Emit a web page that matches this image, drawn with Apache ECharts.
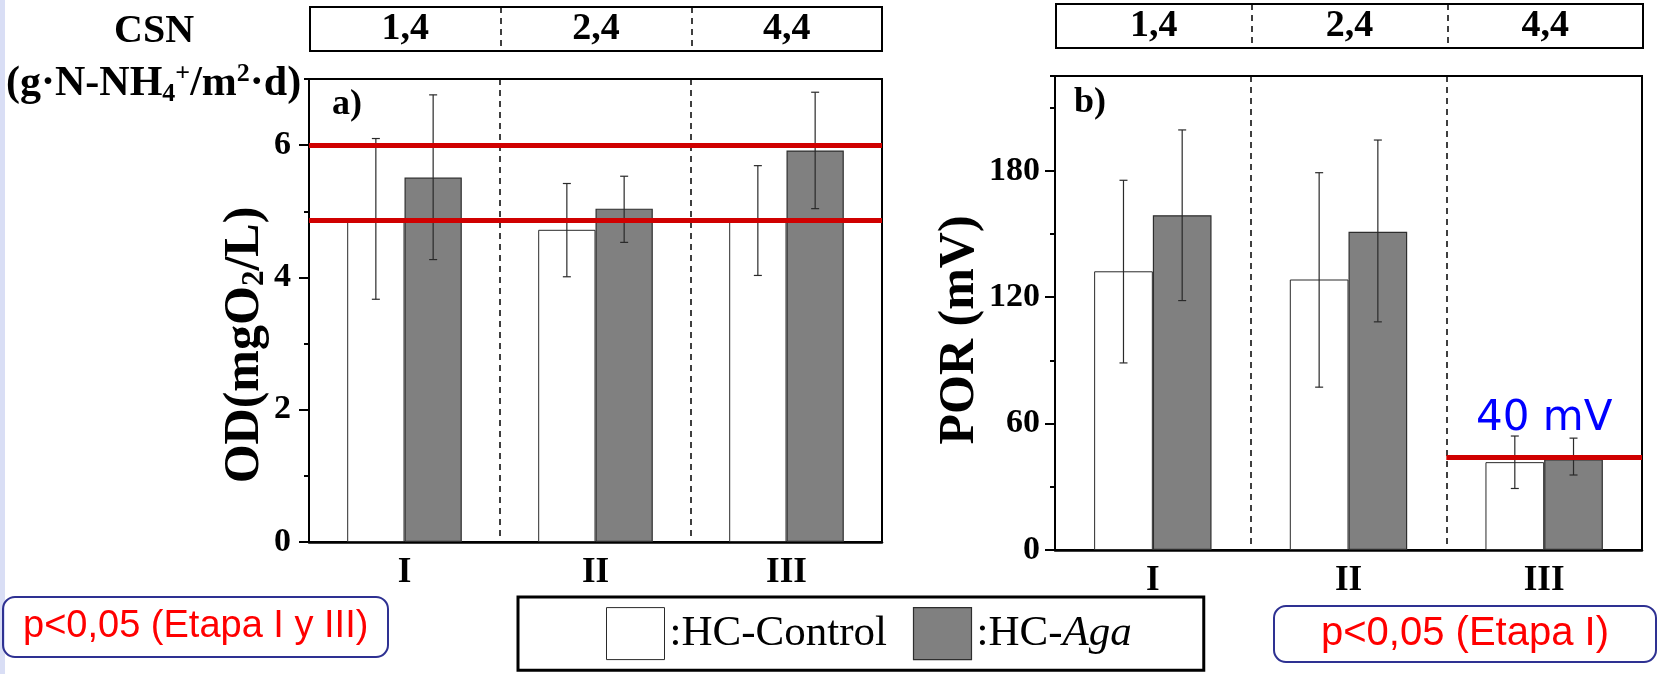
<!DOCTYPE html>
<html><head><meta charset="utf-8">
<script src="https://cdn.jsdelivr.net/npm/echarts@6/dist/echarts.min.js"></script>
<style>html,body{margin:0;padding:0;background:#fff}#c{width:1667px;height:674px}</style>
</head><body><div id="c"></div>
<script>
// ---- data ----
const stages = ['I', 'II', 'III'];
const csnLabels = ['1,4', '2,4', '4,4'];
const odControl = [4.85, 4.72, 4.85];
const odAga = [5.51, 5.04, 5.92];
const odControlErr = [[3.67, 6.10], [4.01, 5.42], [4.03, 5.69]];
const odAgaErr = [[4.27, 6.76], [4.53, 5.53], [5.04, 6.80]];
const odLimits = [6.0, 4.87];
const porControl = [132.3, 128.4, 41.7];
const porAga = [158.9, 151.1, 43.0];
const porControlErr = [[88.8, 175.5], [77.3, 179.1], [29.2, 54.1]];
const porAgaErr = [[118.4, 199.4], [108.3, 194.6], [35.6, 53.1]];
const porLimit = 43.8;
const porLimitStageSpan = [2, 3];
const porLimitLabel = '40 mV';

// ---- styles ----
const SERIF = "'Liberation Serif', 'Times New Roman', serif";
const SANS = "'Liberation Sans', Arial, sans-serif";
const RED = '#d00000';

function errItem(sign) {
  return function (params, api) {
    const x = api.value(0), lo = api.value(1), hi = api.value(2);
    const band = api.size([1, 0])[0];
    const pHi = api.coord([x, hi]);
    const pLo = api.coord([x, lo]);
    const cx = pHi[0] + sign * band * 0.15;
    const hw = 4;
    const st = { stroke: '#2a2a2a', lineWidth: 1.2 };
    return { type: 'group', children: [
      { type: 'line', shape: { x1: cx, y1: pHi[1], x2: cx, y2: pLo[1] }, style: st },
      { type: 'line', shape: { x1: cx - hw, y1: pHi[1], x2: cx + hw, y2: pHi[1] }, style: st },
      { type: 'line', shape: { x1: cx - hw, y1: pLo[1], x2: cx + hw, y2: pLo[1] }, style: st }
    ]};
  };
}
function errData(arr) { return arr.map((d, i) => [i, d[0], d[1]]); }

const catAxisCommon = {
  type: 'category', data: stages, boundaryGap: true, position: 'bottom',
  axisLine: { lineStyle: { color: '#000', width: 2.5 } },
  axisTick: { alignWithLabel: true, length: 10, lineStyle: { color: '#000', width: 2 } },
  axisLabel: { fontFamily: SERIF, fontWeight: 'bold', fontSize: 35, color: '#000', margin: 13 },
  splitLine: { show: true, lineStyle: { color: '#000', width: 1.5, type: [6, 5] } }
};
function majorY(grid, max, interval, margin, name, nameGap, shift) {
  return {
    type: 'value', gridIndex: grid, position: 'left', min: 0, max: max, interval: interval,
    axisLine: { show: true, lineStyle: { color: '#000', width: 2 } },
    axisTick: { show: true, length: 10, lineStyle: { color: '#000', width: 2 } },
    axisLabel: { fontFamily: SERIF, fontWeight: 'bold', fontSize: 34, color: '#000', margin: margin, showMaxLabel: false },
    splitLine: { show: false },
    name: name, nameLocation: 'middle', nameGap: nameGap, nameRotate: 90,
    nameTextStyle: { fontFamily: SERIF, fontWeight: 'bold', fontSize: 50, color: '#000', padding: [0, shift, 0, 0],
      rich: { s: { fontFamily: SERIF, fontWeight: 'bold', fontSize: 31, color: '#000', verticalAlign: 'bottom', lineHeight: 50 } } }
  };
}
function minorY(grid, max, interval) {
  return {
    type: 'value', gridIndex: grid, position: 'left', offset: 0, min: 0, max: max, interval: interval,
    axisLine: { show: false }, axisLabel: { show: false }, splitLine: { show: false },
    axisTick: { show: true, length: 5, lineStyle: { color: '#000', width: 2 } }
  };
}
function csnAxis(grid) {
  return {
    type: 'category', gridIndex: grid, data: csnLabels, boundaryGap: true, position: 'bottom',
    axisLine: { show: false }, axisTick: { show: false },
    axisLabel: { fontFamily: SERIF, fontWeight: 'bold', fontSize: 38, color: '#000', margin: -22, verticalAlign: 'middle' },
    splitLine: { show: true, lineStyle: { color: '#000', width: 1.5, type: [6, 5] } }
  };
}

const whiteStyle = { color: '#ffffff', borderColor: '#2a2a2a', borderWidth: 1 };
const grayStyle = { color: '#808080', borderColor: '#2e2e2e', borderWidth: 1.2 };

const option = {
  backgroundColor: '#fff',
  animation: false,
  graphic: [{ type: 'rect', left: 0, top: 0, shape: { width: 5, height: 674 }, style: { fill: '#d9def5' } }],
  grid: [
    { left: 309, top: 79, width: 573, height: 463, show: true, borderColor: '#000', borderWidth: 2 },
    { left: 1055, top: 76, width: 587, height: 474, show: true, borderColor: '#000', borderWidth: 2 },
    { left: 310, top: 7, width: 572, height: 44, show: true, borderColor: '#000', borderWidth: 2 },
    { left: 1056, top: 4, width: 587, height: 44, show: true, borderColor: '#000', borderWidth: 2 }
  ],
  xAxis: [
    Object.assign({ gridIndex: 0 }, catAxisCommon),
    Object.assign({ gridIndex: 1 }, catAxisCommon),
    csnAxis(2),
    csnAxis(3),
    { type: 'value', gridIndex: 1, min: 0, max: 3, show: false }
  ],
  yAxis: [
    majorY(0, 7, 2, 18, 'OD(mgO{s|2}/L)', 38, 69),
    minorY(0, 7, 1),
    majorY(1, 225, 60, 15, 'POR (mV)', 70, 34),
    minorY(1, 225, 30),
    { type: 'value', gridIndex: 2, show: false },
    { type: 'value', gridIndex: 3, show: false }
  ],
  legend: {
    left: 518, top: 597, orient: 'horizontal',
    itemWidth: 58, itemHeight: 52, itemGap: 26,
    padding: [10, 72, 10, 88],
    borderColor: '#000', borderWidth: 3,
    icon: 'rect',
    data: [
      { name: 'HC-Control', itemStyle: whiteStyle },
      { name: 'HC-Aga', itemStyle: grayStyle }
    ],
    formatter: function (n) { return n === 'HC-Aga' ? ':HC-{i|Aga}' : ':' + n; },
    textStyle: { fontFamily: SERIF, fontSize: 43, color: '#000',
      rich: { i: { fontFamily: SERIF, fontSize: 43, fontStyle: 'italic', color: '#000' } } }
  },
  title: [
    { text: 'CSN', left: 114, top: 12, padding: 0,
      textStyle: { fontFamily: SERIF, fontWeight: 'bold', fontSize: 40, color: '#000' } },
    { text: '(g·N-NH{sb|4}{sp|+}/m{sp|2}·d)', left: 6, top: 61, padding: 0,
      textStyle: { fontFamily: SERIF, fontWeight: 'bold', fontSize: 42, color: '#000',
        rich: {
          sb: { fontFamily: SERIF, fontWeight: 'bold', fontSize: 26, color: '#000', verticalAlign: 'bottom', lineHeight: 46 },
          sp: { fontFamily: SERIF, fontWeight: 'bold', fontSize: 26, color: '#000', verticalAlign: 'top', lineHeight: 46 }
        } } },
    { text: 'a)', left: 332, top: 87, padding: 0,
      textStyle: { fontFamily: SERIF, fontWeight: 'bold', fontSize: 36, color: '#000' } },
    { text: 'b)', left: 1074, top: 85, padding: 0,
      textStyle: { fontFamily: SERIF, fontWeight: 'bold', fontSize: 36, color: '#000' } },
    { text: 'p<0,05 (Etapa I y III)', left: 3, top: 597, padding: [11, 20, 11, 20],
      borderColor: '#2e3192', borderWidth: 2, borderRadius: 12,
      textStyle: { fontFamily: SANS, fontWeight: 'normal', fontSize: 38, color: '#ff0000' } },
    { text: 'p<0,05 (Etapa I)', left: 1274, top: 606, padding: [8, 47, 8, 47],
      borderColor: '#2e3192', borderWidth: 2, borderRadius: 12,
      textStyle: { fontFamily: SANS, fontWeight: 'normal', fontSize: 40, color: '#ff0000' } }
  ],
  series: [
    { name: 'HC-Control', type: 'bar', xAxisIndex: 0, yAxisIndex: 0, data: odControl,
      barGap: '0%', barCategoryGap: '40%', itemStyle: whiteStyle, z: 2 },
    { name: 'HC-Aga', type: 'bar', xAxisIndex: 0, yAxisIndex: 0, data: odAga,
      barGap: '0%', barCategoryGap: '40%', itemStyle: grayStyle, z: 2,
      markLine: { silent: true, symbol: ['none', 'none'], label: { show: false },
        lineStyle: { color: RED, width: 5, type: 'solid' },
        data: odLimits.map(v => ({ yAxis: v })) } },
    { name: 'HC-Control', type: 'bar', xAxisIndex: 1, yAxisIndex: 2, data: porControl,
      barGap: '0%', barCategoryGap: '40%', itemStyle: whiteStyle, z: 2 },
    { name: 'HC-Aga', type: 'bar', xAxisIndex: 1, yAxisIndex: 2, data: porAga,
      barGap: '0%', barCategoryGap: '40%', itemStyle: grayStyle, z: 2 },
    { type: 'custom', xAxisIndex: 0, yAxisIndex: 0, renderItem: errItem(-1), data: errData(odControlErr), encode: { x: 0, y: [1, 2] }, z: 3, silent: true },
    { type: 'custom', xAxisIndex: 0, yAxisIndex: 0, renderItem: errItem(1), data: errData(odAgaErr), encode: { x: 0, y: [1, 2] }, z: 3, silent: true },
    { type: 'custom', xAxisIndex: 1, yAxisIndex: 2, renderItem: errItem(-1), data: errData(porControlErr), encode: { x: 0, y: [1, 2] }, z: 3, silent: true },
    { type: 'custom', xAxisIndex: 1, yAxisIndex: 2, renderItem: errItem(1), data: errData(porAgaErr), encode: { x: 0, y: [1, 2] }, z: 3, silent: true },
    { type: 'line', xAxisIndex: 4, yAxisIndex: 2, data: [], silent: true,
      markLine: { silent: true, symbol: ['none', 'none'],
        lineStyle: { color: RED, width: 5, type: 'solid' },
        label: { show: true, position: 'middle', formatter: porLimitLabel, distance: 18,
          fontFamily: "'DejaVu Sans', sans-serif", fontSize: 42, color: '#0000ff' },
        data: [[{ coord: [porLimitStageSpan[0], porLimit] }, { coord: [porLimitStageSpan[1], porLimit] }]] } }
  ]
};

const chart = echarts.init(document.getElementById('c'), null, { renderer: 'canvas' });
chart.setOption(option);
</script>
</body></html>
